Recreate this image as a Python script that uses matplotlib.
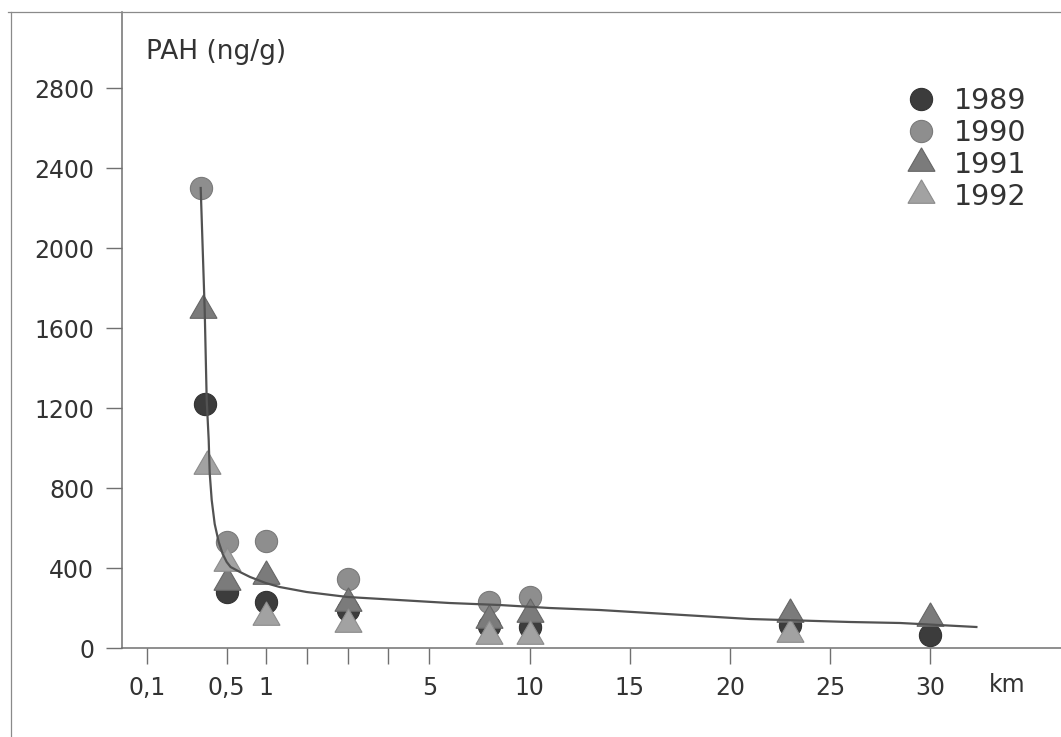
import matplotlib
matplotlib.use("Agg")
import matplotlib.pyplot as plt
from matplotlib.lines import Line2D
import numpy as np

# values (km, PAH ng/g)
km_1989 = [0.39, 0.5, 1, 3, 8, 10, 23, 30]
pah_1989 = [1220, 282, 230, 190, 110, 105, 115, 65]

km_1990 = [0.37, 0.5, 1, 3, 8, 10]
pah_1990 = [2300, 530, 535, 345, 230, 255]

km_1991 = [0.38, 0.5, 1, 3, 8, 10, 23, 30]
pah_1991 = [1690, 330, 362, 225, 140, 170, 170, 150]

km_1992 = [0.40, 0.5, 1, 3, 8, 10, 23]
pah_1992 = [910, 427, 155, 120, 60, 60, 70]

# fitted curve
fit_km = [0.37, 0.39, 0.40, 0.41, 0.415, 0.425, 0.44, 0.46, 0.48, 0.5, 0.55,
          0.67, 0.8, 1.0, 1.34, 2.0, 3.0, 4.25, 6.0, 8.5, 11, 13.5, 16, 18.5,
          21, 26, 28.5, 32.3]
fit_pah = [2300, 1690, 1240, 1040, 875, 740, 620, 530, 470, 430, 405,
           380, 355, 325, 305, 280, 255, 240, 225, 215, 200, 190, 175, 160,
           145, 130, 125, 105]

x_ticks = [0.1, 0.5, 1, 2, 3, 4, 5, 10, 15, 20, 25, 30]
x_labels = ["0,1", "0,5", "1", "", "", "", "5", "10", "15", "20", "25", "30"]
y_ticks = [0, 400, 800, 1200, 1600, 2000, 2400, 2800]

# broken km axis of the original: piecewise linear
KM_KNOTS = [-1, 0.1, 0.5, 1, 5, 30, 60]
POS_KNOTS = [-73.3, 146.7, 226.7, 265.7, 429.3, 930.3, 1531.5]


def fwd(x):
  return np.interp(x, KM_KNOTS, POS_KNOTS)


def inv(p):
  return np.interp(p, POS_KNOTS, KM_KNOTS)


W, H = 1061, 737
TXT = "#333333"
AX_COL = "#707070"

plt.rcParams["font.family"] = ["DejaVu Sans"]

fig = plt.figure(figsize=(W / 100, H / 100), dpi=100)
ax = fig.add_axes([122 / W, (H - 648) / H, (W - 122) / W, (648 - 12) / H])

ax.set_xscale("function", functions=(fwd, inv))
ax.set_xlim(inv(122), inv(W))
ax.set_ylim(0, 3180)

tri = (3, 0, 0)
h90, = ax.plot(km_1990, pah_1990, ls="none", marker="o", ms=16, mfc="#8e8e8e",
               mec="#7a7a7a", mew=0.8, zorder=2)
h89, = ax.plot(km_1989, pah_1989, ls="none", marker="o", ms=16, mfc="#3c3c3c",
               mec="#333333", mew=0.8, zorder=3)
h91, = ax.plot(km_1991, pah_1991, ls="none", marker=tri, ms=22.5, mfc="#7b7b7b",
               mec="#666666", mew=0.8, zorder=4)
h92, = ax.plot(km_1992, pah_1992, ls="none", marker=tri, ms=22.5, mfc="#a2a2a2",
               mec="#8c8c8c", mew=0.8, zorder=5)
ax.plot(fit_km, fit_pah, color="#525252", lw=1.6, zorder=6)

for side in ["top", "right"]:
  ax.spines[side].set_visible(False)
for side in ["left", "bottom"]:
  ax.spines[side].set_color(AX_COL)
  ax.spines[side].set_linewidth(1.1)

ax.set_xticks(x_ticks)
ax.set_xticklabels(x_labels)
ax.minorticks_off()
ax.set_yticks(y_ticks)
ax.tick_params(axis="x", direction="out", length=11.8, width=1.0, color=AX_COL,
               labelsize=17, labelcolor=TXT, pad=8.5)
ax.tick_params(axis="y", direction="out", length=11.3, width=1.0, color=AX_COL,
               labelsize=17, labelcolor=TXT, pad=8.6)

fig.text(146 / W, 1 - 52 / H, "PAH (ng/g)", ha="left", va="center",
         fontsize=19, color=TXT)
fig.text(1007 / W, 1 - 685 / H, "km", ha="center", va="center",
         fontsize=17, color=TXT)

ax.legend([h89, h90, h91, h92], ["1989", "1990", "1991", "1992"],
          loc="upper left", bbox_to_anchor=(906.5 / W, 1 - 87 / H),
          bbox_transform=fig.transFigure, frameon=False, fontsize=20.5,
          handlelength=1.0, handletextpad=0.65, labelspacing=0.14,
          borderpad=0, borderaxespad=0, numpoints=1, labelcolor=TXT)

# outer frame of the original figure
fig.add_artist(Line2D([11 / W, 11 / W], [0, 1 - 12 / H], transform=fig.transFigure,
                      color="#8a8a8a", lw=0.9))
fig.add_artist(Line2D([8 / W, 1], [1 - 12 / H, 1 - 12 / H], transform=fig.transFigure,
                      color="#8a8a8a", lw=0.9))

fig.savefig("out.png", dpi=100)
